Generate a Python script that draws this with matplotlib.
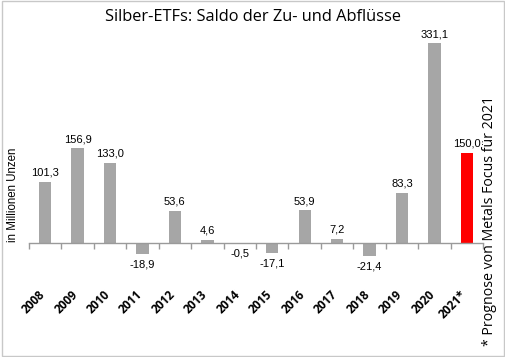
import matplotlib
matplotlib.use("Agg")
import matplotlib.pyplot as plt
from matplotlib.patches import Rectangle
from matplotlib.ticker import FixedLocator, NullLocator
import matplotlib.transforms as mtransforms

# data
years = ["2008", "2009", "2010", "2011", "2012", "2013", "2014",
         "2015", "2016", "2017", "2018", "2019", "2020", "2021*"]
flows = [101.3, 156.9, 133.0, -18.9, 53.6, 4.6, -0.5,
         -17.1, 53.9, 7.2, -21.4, 83.3, 331.1, 150.0]
bar_colors = ["#a6a6a6"] * 13 + ["#ff0000"]

title = "Silber-ETFs: Saldo der Zu- und Abflüsse"
y_label = "in Millionen Unzen"
side_note = "* Prognose von Metals Focus für 2021"


def fmt(v):
    return f"{v:.1f}".replace(".", ",")


def main():
    fig = plt.figure(figsize=(5.06, 3.57), dpi=100)
    ax = fig.add_axes([0.057, 87 / 357, 0.898, 238 / 357])

    x = list(range(len(years)))
    ax.bar(x, flows, width=0.38, color=bar_colors, zorder=2)

    ax.set_xlim(-0.5, len(years) - 0.5)
    ax.set_ylim(-45, 350)

    # zero line with ticks between categories
    for s in ["top", "right", "left"]:
        ax.spines[s].set_visible(False)
    ax.spines["bottom"].set_position(("data", 0))
    ax.spines["bottom"].set_color("#9a9a9a")
    ax.spines["bottom"].set_linewidth(1.0)
    ax.spines["bottom"].set_zorder(3)
    ax.xaxis.set_major_locator(FixedLocator([i - 0.5 for i in range(len(years) + 1)]))
    ax.xaxis.set_minor_locator(NullLocator())
    ax.tick_params(axis="x", length=4, width=1, color="#9a9a9a", labelbottom=False)
    ax.set_yticks([])

    # value labels
    for xi, v in zip(x, flows):
        if v >= 0:
            ax.annotate(fmt(v), (xi, v), xytext=(0, 3), textcoords="offset points",
                        ha="center", va="bottom", fontsize=8,
                        family="Liberation Sans")
        else:
            ax.annotate(fmt(v), (xi, v), xytext=(0, -4), textcoords="offset points",
                        ha="center", va="top", fontsize=8,
                        family="Liberation Sans")

    # year labels at the bottom
    trans = mtransforms.blended_transform_factory(ax.transData, ax.transAxes)
    for xi, lab in zip(x, years):
        ax.text(xi + 0.08, -0.076, lab, transform=trans, rotation=45,
                ha="right", va="top", fontsize=8.5, fontweight="bold",
                family="Open Sans")

    fig.text(0.5, 0.953, title, ha="center", va="center", fontsize=11.8,
             family="Open Sans")
    fig.text(0.026, 1 - 195 / 357, y_label, rotation=90, ha="center",
             va="center", fontsize=8.3, family="Liberation Sans")
    fig.text(0.968, 1 - 221 / 357, side_note, rotation=90, ha="center",
             va="center", fontsize=10.2, family="Open Sans")

    fig.patches.append(Rectangle((0.003, 0.003), 0.993, 0.993, transform=fig.transFigure,
                                 fill=False, edgecolor="#c8c8c8", linewidth=1))

    fig.savefig("out.png", dpi=100)
    plt.close(fig)


if __name__ == "__main__":
    main()
